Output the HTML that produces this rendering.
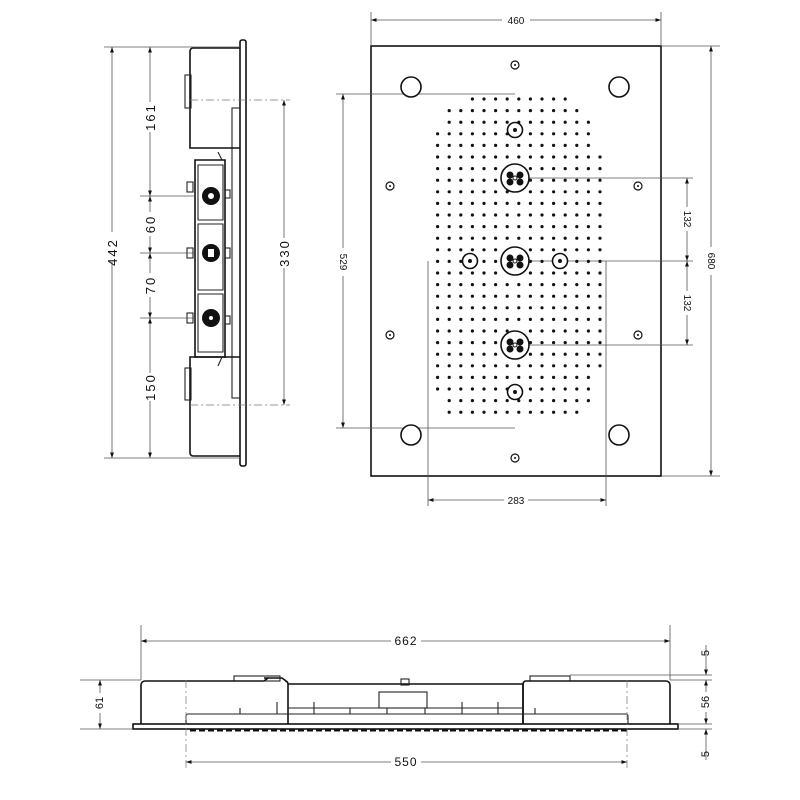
<!DOCTYPE html>
<html><head><meta charset="utf-8"><style>
html,body{margin:0;padding:0;background:#fff}
svg{display:block}
text{font-family:"Liberation Sans",sans-serif;font-size:11px;fill:#111}
.t{stroke:#111;fill:none;stroke-width:1.6}
.m{stroke:#222;fill:none;stroke-width:1.1}
.d{stroke:#555;fill:none;stroke-width:0.8}
.c{stroke:#777;fill:none;stroke-width:0.7;stroke-dasharray:8 3 2 3}
</style></head><body>
<svg id="s" width="800" height="800" viewBox="0 0 800 800" xmlns="http://www.w3.org/2000/svg">
<defs>
<marker id="a" viewBox="0 0 10 10" refX="10" refY="5" markerWidth="7" markerHeight="7" orient="auto-start-reverse"><path d="M0,1.5 L10,5 L0,8.5z" fill="#111"/></marker>
</defs>

<!-- ===== LEFT SIDE VIEW ===== -->
<g>
<rect x="240" y="40" width="6" height="426" rx="2" class="t"/>
<rect x="232" y="108" width="8" height="290" class="m"/>
<path d="M240,48 H193 a3,3 0 0 0 -3,3 V148 H240" class="t"/>
<rect x="185" y="75" width="6" height="33" class="m"/>
<path d="M240,456 H193 a3,3 0 0 1 -3,-3 V357 H240" class="t"/>
<rect x="185" y="368" width="6" height="32" class="m"/>
<path d="M195,160 H225 V357 H195 Z" class="t"/>
<path d="M198,165 H223 V220 H198Z M198,224 H223 V290 H198Z M198,294 H223 V352 H198Z" class="m"/>
<line x1="218" y1="152" x2="222" y2="160" class="m"/>
<line x1="218" y1="366" x2="222" y2="357" class="m"/>
<circle cx="211" cy="196" r="9" fill="#111"/><circle cx="211" cy="196" r="3" fill="#fff"/>
<circle cx="211" cy="253" r="9" fill="#111"/><rect x="208" y="249" width="6" height="8" fill="#fff"/>
<circle cx="211" cy="318" r="9" fill="#111"/><circle cx="211" cy="318" r="2" fill="#fff"/>
<rect x="187" y="182" width="6" height="10" class="m"/>
<rect x="187" y="248" width="6" height="10" class="m"/>
<rect x="187" y="313" width="6" height="10" class="m"/>
<rect x="225" y="190" width="5" height="8" class="m"/>
<rect x="225" y="248" width="5" height="10" class="m"/>
<rect x="225" y="316" width="5" height="8" class="m"/>
<!-- extension lines -->
<line x1="104" y1="47" x2="240" y2="47" class="d"/>
<line x1="104" y1="458" x2="240" y2="458" class="d"/>
<line x1="140" y1="196" x2="195" y2="196" class="d"/>
<line x1="140" y1="253" x2="195" y2="253" class="d"/>
<line x1="140" y1="318" x2="195" y2="318" class="d"/>
<line x1="190" y1="100" x2="290" y2="100" class="c"/>
<line x1="190" y1="405" x2="290" y2="405" class="c"/>
<!-- dims -->
<line x1="112" y1="47" x2="112" y2="458" class="d" marker-start="url(#a)" marker-end="url(#a)"/>
<line x1="150" y1="47" x2="150" y2="196" class="d" marker-start="url(#a)" marker-end="url(#a)"/>
<line x1="150" y1="196" x2="150" y2="253" class="d" marker-start="url(#a)" marker-end="url(#a)"/>
<line x1="150" y1="253" x2="150" y2="318" class="d" marker-start="url(#a)" marker-end="url(#a)"/>
<line x1="150" y1="318" x2="150" y2="458" class="d" marker-start="url(#a)" marker-end="url(#a)"/>
<line x1="284" y1="100" x2="284" y2="405" class="d" marker-start="url(#a)" marker-end="url(#a)"/>
<g font-size="13">
<rect x="104" y="232" width="16" height="30" fill="#fff"/><text transform="translate(117,252) rotate(-90)" text-anchor="middle" style="font-size:13px;letter-spacing:2px">442</text>
<rect x="142" y="102" width="16" height="30" fill="#fff"/><text transform="translate(155,117) rotate(-90)" text-anchor="middle" style="font-size:13px;letter-spacing:2px">161</text>
<rect x="142" y="212" width="16" height="24" fill="#fff"/><text transform="translate(155,224) rotate(-90)" text-anchor="middle" style="font-size:13px;letter-spacing:2px">60</text>
<rect x="142" y="273" width="16" height="24" fill="#fff"/><text transform="translate(155,285) rotate(-90)" text-anchor="middle" style="font-size:13px;letter-spacing:2px">70</text>
<rect x="142" y="373" width="16" height="28" fill="#fff"/><text transform="translate(155,387) rotate(-90)" text-anchor="middle" style="font-size:13px;letter-spacing:2px">150</text>
<rect x="276" y="238" width="16" height="30" fill="#fff"/><text transform="translate(289,253) rotate(-90)" text-anchor="middle" style="font-size:13px;letter-spacing:2px">330</text>
</g>
</g>

<!-- ===== TOP VIEW ===== -->
<g>
<rect x="371" y="46" width="290" height="430" class="t"/>
<line x1="371" y1="12" x2="371" y2="46" class="d"/>
<line x1="661" y1="12" x2="661" y2="46" class="d"/>
<line x1="371" y1="20" x2="661" y2="20" class="d" marker-start="url(#a)" marker-end="url(#a)"/>
<rect x="502" y="14" width="28" height="12" fill="#fff"/><text x="516" y="24" text-anchor="middle" style="font-size:10px">460</text>
<line x1="661" y1="46" x2="720" y2="46" class="d"/>
<line x1="661" y1="476" x2="720" y2="476" class="d"/>
<line x1="711" y1="46" x2="711" y2="476" class="d" marker-start="url(#a)" marker-end="url(#a)"/>
<rect x="705" y="247" width="12" height="28" fill="#fff"/><text transform="translate(708,261) rotate(90)" text-anchor="middle" style="font-size:10px">680</text>
<line x1="336" y1="94" x2="515" y2="94" class="d"/>
<line x1="336" y1="428" x2="515" y2="428" class="d"/>
<line x1="343" y1="94" x2="343" y2="428" class="d" marker-start="url(#a)" marker-end="url(#a)"/>
<rect x="337" y="248" width="12" height="28" fill="#fff"/><text transform="translate(340,262) rotate(90)" text-anchor="middle" style="font-size:10px">529</text>
<line x1="428" y1="261" x2="428" y2="506" class="d"/>
<line x1="606" y1="261" x2="606" y2="506" class="d"/>
<line x1="428" y1="500" x2="606" y2="500" class="d" marker-start="url(#a)" marker-end="url(#a)"/>
<rect x="504" y="494" width="24" height="12" fill="#fff"/><text x="516" y="504" text-anchor="middle" style="font-size:10px">283</text>
<line x1="515" y1="178" x2="693" y2="178" class="d"/>
<line x1="515" y1="261" x2="693" y2="261" class="d"/>
<line x1="515" y1="345" x2="693" y2="345" class="d"/>
<line x1="687" y1="178" x2="687" y2="261" class="d" marker-start="url(#a)" marker-end="url(#a)"/>
<line x1="687" y1="261" x2="687" y2="345" class="d" marker-start="url(#a)" marker-end="url(#a)"/>
<rect x="681" y="207" width="12" height="24" fill="#fff"/><text transform="translate(684,219) rotate(90)" text-anchor="middle" style="font-size:10px">132</text>
<rect x="681" y="291" width="12" height="24" fill="#fff"/><text transform="translate(684,303) rotate(90)" text-anchor="middle" style="font-size:10px">132</text>
<g id="dots"></g>
<g id="noz"></g>
</g>

<!-- ===== BOTTOM VIEW ===== -->
<g>
<line x1="141" y1="625" x2="141" y2="680" class="d"/>
<line x1="670" y1="625" x2="670" y2="680" class="d"/>
<line x1="141" y1="641" x2="670" y2="641" class="d" marker-start="url(#a)" marker-end="url(#a)"/>
<rect x="391" y="634" width="30" height="14" fill="#fff"/><text x="406" y="645" text-anchor="middle" style="font-size:12px;letter-spacing:1px">662</text>
<path d="M141,724 V685 a4,4 0 0 1 4,-4 H264 l4,-3 H264 M268,678 H282 l4,3 H285 a3,3 0 0 1 3,3 V724" class="t"/>
<path d="M288,684 H523 V724" class="t"/>
<path d="M523,724 V684 a3,3 0 0 1 3,-3 H666 a4,4 0 0 1 4,4 V724" class="t"/>
<rect x="234" y="676" width="46" height="5" class="m"/>
<rect x="530" y="676" width="40" height="5" class="m"/>
<rect x="379" y="692" width="48" height="16" class="m"/>
<rect x="401" y="679" width="8" height="6" class="m"/>
<rect x="186" y="714" width="442" height="10" rx="2" class="m"/>
<rect x="133" y="724" width="545" height="5" class="t"/>
<path d="M190,730 H450" stroke="#111" stroke-width="3" stroke-dasharray="6 3"/>
<path d="M450,730 H630" stroke="#111" stroke-width="3" stroke-dasharray="6 3"/>
<g class="m">
<line x1="240" y1="708" x2="240" y2="714"/><line x1="277" y1="702" x2="277" y2="714"/><line x1="314" y1="702" x2="314" y2="714"/>
<line x1="350" y1="708" x2="350" y2="714"/><line x1="387" y1="708" x2="387" y2="714"/><line x1="425" y1="708" x2="425" y2="714"/>
<line x1="462" y1="702" x2="462" y2="714"/><line x1="498" y1="702" x2="498" y2="714"/><line x1="535" y1="708" x2="535" y2="714"/>
<line x1="288" y1="708" x2="523" y2="708"/>
</g>
<line x1="186" y1="680" x2="186" y2="770" class="c"/>
<line x1="627" y1="680" x2="627" y2="770" class="c"/>
<line x1="186" y1="762" x2="627" y2="762" class="d" marker-start="url(#a)" marker-end="url(#a)"/>
<rect x="391" y="755" width="30" height="14" fill="#fff"/><text x="406" y="766" text-anchor="middle" style="font-size:12px;letter-spacing:1px">550</text>
<line x1="80" y1="680" x2="141" y2="680" class="d"/>
<line x1="80" y1="729" x2="133" y2="729" class="d"/>
<line x1="100" y1="680" x2="100" y2="729" class="d" marker-start="url(#a)" marker-end="url(#a)"/>
<rect x="92" y="693" width="16" height="20" fill="#fff"/><text transform="translate(103,703) rotate(-90)" text-anchor="middle" style="font-size:11px">61</text>
<line x1="570" y1="675" x2="712" y2="675" class="d"/>
<line x1="670" y1="680" x2="712" y2="680" class="d"/>
<line x1="678" y1="724" x2="712" y2="724" class="d"/>
<line x1="678" y1="729" x2="712" y2="729" class="d"/>
<line x1="706" y1="645" x2="706" y2="675" class="d" marker-end="url(#a)"/>
<line x1="706" y1="680" x2="706" y2="724" class="d" marker-start="url(#a)" marker-end="url(#a)"/>
<line x1="706" y1="760" x2="706" y2="729" class="d" marker-end="url(#a)"/>
<rect x="700" y="692" width="12" height="20" fill="#fff"/><text transform="translate(709,702) rotate(-90)" text-anchor="middle" style="font-size:11px">56</text>
<text transform="translate(709,653) rotate(-90)" text-anchor="middle" style="font-size:11px">5</text>
<text transform="translate(709,754) rotate(-90)" text-anchor="middle" style="font-size:11px">5</text>
</g>
</svg>
<script>
(function(){
var NS="http://www.w3.org/2000/svg";
var dots=document.getElementById("dots"),noz=document.getElementById("noz");
function c(p,cx,cy,r,a){var e=document.createElementNS(NS,"circle");e.setAttribute("cx",cx);e.setAttribute("cy",cy);e.setAttribute("r",r);for(var k in a)e.setAttribute(k,a[k]);p.appendChild(e);return e;}
var cx=516,cy=261,rx=89,ry=167;
var skip=[[515,178,19],[515,261,19],[515,345,19],[515,130,10],[515,392,10],[470,261,10],[560,261,10]];
for(var y=cy-162;y<=cy+162;y+=11.6){
 for(var x=cx-90;x<=cx+90;x+=11.6){
  var dx=Math.abs(x-cx)/rx,dy=Math.abs(y-cy)/ry;
  if(Math.pow(dx,4)+Math.pow(dy,4)>1)continue;
  var ok=true;for(var i=0;i<skip.length;i++){var s=skip[i];if(Math.hypot(x-s[0],y-s[1])<s[2]-4)ok=false;}
  if(ok)c(dots,x.toFixed(1),y.toFixed(1),1.6,{fill:"#111"});
 }
}
var st={fill:"#fff",stroke:"#111","stroke-width":"1.6"};
[[411,87],[619,87],[411,435],[619,435]].forEach(function(p){c(noz,p[0],p[1],10,st);});
[[515,178],[515,261],[515,345]].forEach(function(p){c(noz,p[0],p[1],14,st);
 [[-5,-3],[5,-3],[-5,4],[5,4]].forEach(function(o){c(noz,p[0]+o[0],p[1]+o[1],3.5,{fill:"#111"});});
 c(noz,p[0],p[1],2,{fill:"#fff",stroke:"#111","stroke-width":"1"});});
[[515,130],[515,392],[470,261],[560,261]].forEach(function(p){c(noz,p[0],p[1],7.5,st);c(noz,p[0],p[1],2,{fill:"#111"});});
[[515,65],[515,458],[390,186],[638,186],[390,335],[638,335]].forEach(function(p){c(noz,p[0],p[1],4,{fill:"#fff",stroke:"#111","stroke-width":"1.2"});c(noz,p[0],p[1],1,{fill:"#111"});});
})();
</script>
</body></html>
